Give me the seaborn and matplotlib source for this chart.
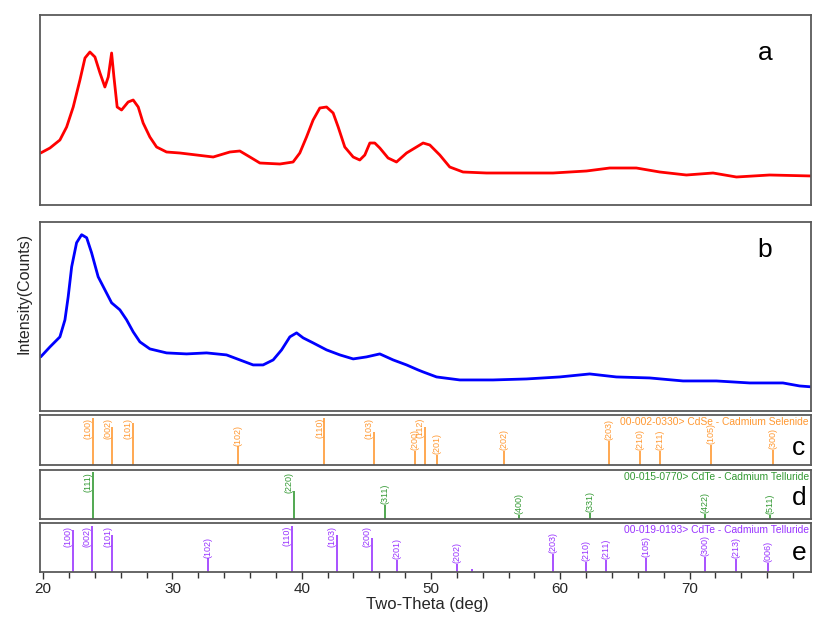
import numpy as np
import pandas as pd
import matplotlib
matplotlib.use("Agg")
import matplotlib.pyplot as plt
from matplotlib.ticker import MultipleLocator
import seaborn as sns

# ---- measured patterns (2-theta in degrees, intensity in counts) ----
theta_a = [19.80, 20.52, 21.29, 21.81, 22.32, 22.84, 23.23, 23.61, 24.00, 24.39,
           24.77, 25.03, 25.29, 25.47, 25.72, 26.06, 26.57, 26.96, 27.35, 27.73,
           28.25, 28.77, 29.54, 30.57, 31.86, 33.15, 34.44, 35.21, 35.99, 36.76,
           38.31, 39.33, 39.85, 40.37, 40.88, 41.40, 41.92, 42.43, 42.82, 43.33,
           43.98, 44.49, 44.88, 45.27, 45.65, 46.04, 46.68, 47.33, 48.11, 48.88,
           49.39, 49.91, 50.68, 51.45, 52.48, 54.29, 56.87, 59.44, 62.03, 63.83,
           65.89, 67.70, 69.76, 71.82, 73.63, 76.20, 79.53]
counts_a = [52, 57, 65, 78, 98, 125, 147, 153, 148, 132,
            118, 128, 152, 128, 98, 95, 103, 105, 98, 82,
            68, 58, 53, 52, 50, 48, 53, 54, 48, 42,
            41, 43, 52, 68, 85, 97, 98, 92, 78, 58,
            48, 45, 50, 62, 62, 57, 47, 43, 52, 58,
            62, 60, 50, 38, 33, 32, 32, 32, 34, 37,
            37, 33, 30, 32, 28, 30, 29]

theta_b = [19.80, 20.52, 21.29, 21.68, 21.93, 22.20, 22.58, 22.97, 23.36, 23.74,
           24.25, 24.77, 25.29, 25.93, 26.45, 26.96, 27.48, 28.25, 29.54, 31.09,
           32.64, 34.18, 35.21, 36.24, 37.01, 37.79, 38.44, 39.08, 39.60, 40.11,
           40.88, 41.92, 42.95, 43.98, 45.01, 46.04, 47.07, 48.11, 49.00, 49.39,
           50.43, 52.23, 54.80, 57.39, 59.96, 62.28, 64.34, 66.92, 69.50, 72.08,
           74.66, 77.23, 78.52, 79.53]
counts_b = [54, 64, 74, 91, 114, 144, 168, 176, 173, 158,
            134, 121, 108, 101, 91, 79, 69, 62, 58, 57,
            58, 56, 51, 46, 46, 51, 61, 74, 78, 73,
            68, 61, 56, 52, 54, 57, 51, 46, 41, 39,
            34, 31, 31, 32, 34, 37, 34, 33, 30, 30,
            28, 28, 25, 24]

# ---- reference patterns: positions, relative intensities, hkl ----
cdse_pos = [23.82, 25.34, 26.94, 35.08, 41.76, 45.60, 48.77, 49.52, 50.50,
            55.65, 63.75, 66.20, 67.70, 71.69, 76.46]
cdse_int = [100, 81, 89, 40, 100, 70, 30, 81, 21, 30, 51, 30, 30, 43, 32]
cdse_hkl = ["(100)", "(002)", "(101)", "(102)", "(110)", "(103)", "(200)", "(112)",
            "(201)", "(202)", "(203)", "(210)", "(211)", "(105)", "(300)"]

cdte_c_pos = [23.82, 39.37, 46.45, 56.81, 62.34, 71.18, 76.26]
cdte_c_int = [100, 60, 30, 9, 12, 10, 9]
cdte_c_hkl = ["(111)", "(220)", "(311)", "(400)", "(331)", "(422)", "(511)"]

cdte_h_pos = [22.32, 23.74, 25.34, 32.76, 39.24, 42.71, 45.42, 47.35, 52.05,
              53.18, 59.44, 61.97, 63.52, 66.64, 71.18, 73.63, 76.10]
cdte_h_int = [91, 100, 80, 30, 100, 80, 75, 27, 18, 8, 40, 22, 27, 32, 33, 29, 20]
cdte_h_hkl = ["(100)", "(002)", "(101)", "(102)", "(110)", "(103)", "(200)", "(201)",
              "(202)", "", "(203)", "(210)", "(211)", "(105)", "(300)", "(213)", "(006)"]

card_titles = ["00-002-0330> CdSe - Cadmium Selenide",
               "00-015-0770> CdTe - Cadmium Telluride",
               "00-019-0193> CdTe - Cadmium Telluride"]
panel_letters = ["a", "b", "c", "d", "e"]

sns.set_theme(style="white")
plt.rcParams["font.family"] = ["Liberation Sans", "DejaVu Sans"]

W, H = 813, 619
fig = plt.figure(figsize=(W / 100, H / 100), dpi=100)
fig.patch.set_facecolor("white")

# panel boxes in pixels: (top, bottom)
left_px, right_px = 40, 811
boxes = [(15, 205), (221.7, 411), (415.3, 465), (469.7, 518.7), (523.3, 572.3)]
axes = []
for top, bot in boxes:
    ax = fig.add_axes([left_px / W, 1 - bot / H, (right_px - left_px) / W, (bot - top) / H])
    ax.set_xlim(19.75, 79.4)
    ax.set_facecolor("white")
    for s in ax.spines.values():
        s.set_color("#5a5a5a")
        s.set_linewidth(1.3)
    ax.set_xticks([])
    ax.set_yticks([])
    ax.set_xlabel("")
    ax.set_ylabel("")
    axes.append(ax)

# measured scans
df_a = pd.DataFrame({"two_theta": theta_a, "counts": counts_a})
df_b = pd.DataFrame({"two_theta": theta_b, "counts": counts_b})
sns.lineplot(data=df_a, x="two_theta", y="counts", ax=axes[0], color="#ff0000",
             lw=2.0, estimator=None, sort=False)
sns.lineplot(data=df_b, x="two_theta", y="counts", ax=axes[1], color="#0000ff",
             lw=2.0, estimator=None, sort=False)
axes[0].set_ylim(0, 190)
axes[1].set_ylim(0, 189)

# stick patterns
stick_sets = [(cdse_pos, cdse_int, cdse_hkl, "#ff9933"),
              (cdte_c_pos, cdte_c_int, cdte_c_hkl, "#339933"),
              (cdte_h_pos, cdte_h_int, cdte_h_hkl, "#9933ff")]
ymax = 106
for ax, (pos, inten, hkl, col), title in zip(axes[2:], stick_sets, card_titles):
    ax.set_ylim(0, ymax)
    ax.vlines(pos, 0, inten, color=col, lw=1.2)
    ax_h = ax.get_position().height * H
    label_frac = 22 / ax_h
    for x, i, t in zip(pos, inten, hkl):
        if not t:
            continue
        if i / ymax + label_frac < 0.96:
            ax.annotate(t, xy=(x, i), xytext=(0, 0.5), textcoords="offset points",
                        rotation=90, ha="center", va="bottom", fontsize=6.5, color=col)
        else:
            ax.annotate(t, xy=(x, 1), xycoords=("data", "axes fraction"),
                        xytext=(-3.4, -1.8), textcoords="offset points",
                        rotation=90, ha="center", va="top", fontsize=6.5, color=col)
    ax.text(0.997, 0.86, title, transform=ax.transAxes, ha="right", va="center",
            fontsize=7.4, color=col)

# panel letters
letter_xy = [(765, 53), (765, 250), (798, 448), (799, 498), (799, 553)]
for (lx, ly), letter in zip(letter_xy, panel_letters):
    fig.text(lx / W, 1 - ly / H, letter, ha="center", va="center", fontsize=19, color="black")

# bottom axis ticks
axb = axes[-1]
axb.set_xticks([20, 30, 40, 50, 60, 70])
axb.xaxis.set_minor_locator(MultipleLocator(2))
axb.tick_params(axis="x", which="major", direction="out", length=5, width=1,
                color="#333333", labelsize=11, pad=2, bottom=True)
axb.tick_params(axis="x", which="minor", direction="out", length=4, width=1,
                color="#333333", bottom=True)
for lab in axb.get_xticklabels():
    lab.set_family(["Liberation Sans Narrow", "Liberation Sans", "DejaVu Sans"])

fig.text(427 / W, 1 - 604 / H, "Two-Theta (deg)", ha="center", va="center", fontsize=12,
         family=["Liberation Sans Narrow", "Liberation Sans", "DejaVu Sans"])
fig.text(24 / W, 1 - 293 / H, "Intensity(Counts)", rotation=90, ha="center", va="center",
         fontsize=11.5)

fig.savefig("out.png", dpi=100, facecolor="white")
